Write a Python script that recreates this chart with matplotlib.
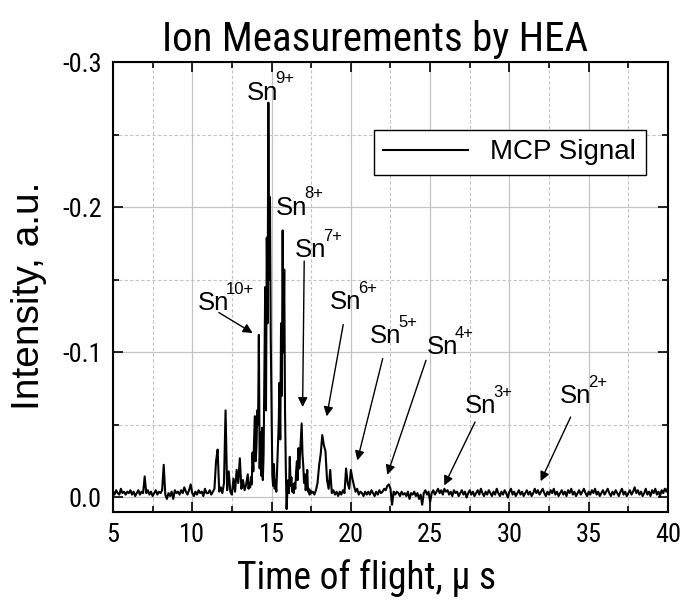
import numpy as np
import matplotlib
matplotlib.use("Agg")
import matplotlib.pyplot as plt
from matplotlib.ticker import MultipleLocator

NARROW = ['Roboto Condensed', 'Archivo Narrow', 'Liberation Sans', 'DejaVu Sans']
WIDE = ['Liberation Sans', 'DejaVu Sans']
plt.rcParams['font.family'] = NARROW

# MCP signal, split in stretches (time in microseconds)
early_start, early_stop = 5.0, 10.9
early_vals = [
    -0.004, -0.002, -0.005, -0.003, -0.002, -0.006, -0.003, -0.004, -0.002, -0.004,
    -0.003, -0.005, -0.002, -0.004, -0.001, -0.003, -0.005, -0.002, -0.004, -0.003,
    -0.0145, -0.003, -0.005, -0.002, -0.004, -0.001, -0.003, -0.005, -0.002, -0.004,
    -0.003, -0.005, -0.0225, -0.002, 0.001, -0.003, -0.001, -0.004, 0.001, -0.005,
    -0.003, -0.004, -0.002, -0.005, -0.003, -0.007, -0.004, -0.002, -0.005, -0.009,
    -0.003, -0.001, -0.004, -0.002, -0.005, -0.003, -0.004, -0.001, -0.006, -0.003,
]

rise_start, rise_stop = 11.0, 13.4
rise_vals = [
    -0.003, -0.005, -0.002, -0.004, -0.006, -0.025, -0.033, -0.004, -0.007, -0.003,
    -0.010, -0.060, -0.005, -0.018, -0.004, -0.002, -0.013, -0.004, -0.019, -0.010,
    -0.027, -0.006, -0.012, -0.005, -0.009,
]

# 0.05 us steps through the main group of peaks
main_start, main_stop = 13.5, 17.5
main_vals = [
    -0.016, -0.006, -0.010, -0.007, -0.014, -0.009, -0.031, -0.018, -0.040, -0.056,
    -0.025, -0.035, -0.060, -0.050, -0.112, -0.020, -0.045, -0.015, -0.048, -0.012,
    -0.030, -0.090, -0.145, -0.060, -0.179, -0.120, -0.272, -0.150, -0.207, -0.110,
    -0.060, -0.015, -0.008, -0.023, -0.006, -0.012, -0.004, -0.020, -0.035, -0.050,
    -0.079, -0.040, -0.120, -0.070, -0.184, -0.100, -0.157, -0.060, -0.020, 0.008,
    -0.005, -0.012, -0.003, -0.028, -0.008, -0.014, -0.004, -0.009, -0.003, -0.010,
    -0.006, -0.018, -0.025, -0.012, -0.034, -0.020, -0.030, -0.040, -0.051, -0.030,
    -0.022, -0.010, -0.016, -0.005, -0.008, -0.019, -0.004, -0.006, -0.002, -0.005,
    -0.003,
]

tail_start, tail_stop = 17.6, 21.0
tail_vals = [
    -0.004, -0.002, -0.005, -0.010, -0.022, -0.030, -0.043, -0.036, -0.032, -0.012,
    -0.006, -0.019, -0.003, -0.005, -0.002, -0.004, -0.001, -0.004, -0.002, -0.005,
    -0.003, -0.020, -0.010, -0.006, -0.019, -0.013, -0.008, -0.004, -0.006, -0.002,
    -0.004, -0.003, -0.001, -0.004, -0.002,
]

late_start, late_stop = 21.1, 40.0
late_vals = [
    -0.004, -0.002, -0.005, -0.003, -0.001, -0.004, -0.002, -0.005, -0.003, -0.004,
    -0.006, -0.005, -0.008, -0.009, -0.006, 0.005, -0.004, -0.002, -0.004, -0.003,
    -0.001, -0.004, -0.002, -0.003, -0.001, -0.004, 0.001, -0.003, -0.002, -0.004,
    -0.001, -0.003, 0.001, -0.002, 0.005, -0.003, -0.005, -0.002, -0.004, 0.003,
    -0.003, -0.005, -0.002, -0.004, -0.006, -0.003, -0.005, -0.002, -0.006, -0.004,
    -0.005, -0.002, -0.004, -0.001, -0.005, -0.003, -0.004, -0.001, -0.003, -0.005,
    -0.002, -0.004, 0.000, -0.003, -0.005, -0.002, -0.004, -0.001, -0.003, -0.005,
    -0.002, -0.006, -0.003, -0.001, -0.004, -0.002, -0.005, -0.003, -0.001, -0.004,
    -0.002, -0.006, -0.003, -0.001, -0.004, -0.002, -0.005, -0.003, 0.000, -0.004,
    -0.006, -0.002, -0.004, -0.001, -0.003, -0.005, -0.002, -0.004, -0.001, -0.003,
    -0.005, -0.002, -0.004, -0.001, -0.003, -0.006, -0.003, -0.005, -0.002, -0.004,
    -0.006, -0.003, -0.001, -0.004, -0.002, -0.005, -0.003, -0.006, -0.002, -0.004,
    -0.001, -0.003, -0.005, -0.002, -0.004, -0.001, -0.005, -0.003, -0.006, -0.002,
    -0.004, -0.001, -0.003, -0.005, -0.002, -0.004, -0.006, -0.003, -0.001, -0.004,
    -0.002, -0.005, -0.003, -0.006, -0.002, -0.004, -0.001, -0.003, -0.005, -0.002,
    -0.004, -0.006, -0.003, -0.001, -0.004, -0.002, -0.005, -0.003, -0.001, -0.004,
    -0.006, -0.002, -0.004, -0.001, -0.003, -0.005, -0.002, -0.004, -0.007, -0.003,
    -0.005, -0.002, -0.004, -0.001, -0.003, -0.006, -0.002, -0.004, -0.001, -0.005,
    -0.003, -0.006, -0.002, -0.004, -0.001, -0.005, -0.003, -0.006, -0.004, -0.007,
]

# ion labels: text anchor (left, baseline) and arrow (from, to); None = no arrow
ion_names = ["9+", "8+", "7+", "10+", "6+", "5+", "4+", "3+", "2+"]
label_xy = [(13.45, -0.274), (15.28, -0.1945), (16.48, -0.1655), (10.36, -0.129),
            (18.68, -0.1297), (21.21, -0.1062), (24.80, -0.0986), (27.20, -0.0579),
            (33.19, -0.0648)]
arrow_from = [None, None, (17.06, -0.1628), (11.68, -0.1274), (19.52, -0.1191),
              (22.01, -0.0957), (24.74, -0.0945), (27.83, -0.0519), (33.86, -0.0554)]
arrow_to = [None, None, (16.96, -0.0623), (13.81, -0.1133), (18.48, -0.0559),
            (20.41, -0.0255), (22.30, -0.0157), (25.89, -0.0083), (31.97, -0.0112)]

segments = [
    (early_start, early_stop, early_vals),
    (rise_start, rise_stop, rise_vals),
    (main_start, main_stop, main_vals),
    (tail_start, tail_stop, tail_vals),
    (late_start, late_stop, late_vals),
]
t = np.concatenate([np.linspace(a, b, len(v)) for a, b, v in segments])
signal = np.concatenate([v for a, b, v in segments])

fig = plt.figure(figsize=(6.83, 6.02), dpi=100)
ax = fig.add_axes([0.1654, 0.1495, 0.8126, 0.7475])

ax.plot(t, signal, color='black', lw=1.5, label='MCP Signal')

ax.set_xlim(5, 40)
ax.set_ylim(0.01, -0.3)
ax.xaxis.set_major_locator(MultipleLocator(5))
ax.xaxis.set_minor_locator(MultipleLocator(2.5))
ax.yaxis.set_major_locator(MultipleLocator(0.1))
ax.yaxis.set_minor_locator(MultipleLocator(0.05))
ax.yaxis.set_major_formatter(lambda v, p: f"{v:.1f}" if abs(v) > 1e-9 else "0.0")

ax.grid(True, which='major', color='#c4c4c4', lw=0.9, ls='-')
ax.grid(True, which='minor', color='#c4c4c4', lw=0.8, ls=(0, (3, 2)))
ax.set_axisbelow(True)

ax.tick_params(which='both', direction='in', top=True, right=True, width=1.2,
               labelsize=19, pad=8)
ax.tick_params(which='major', length=7)
ax.tick_params(which='minor', length=4)
for s in ax.spines.values():
    s.set_linewidth(1.5)

ax.set_title("Ion Measurements by HEA", fontsize=29.5, pad=8, x=0.473)
ax.set_xlabel("Time of flight, \u03bc s", fontsize=27)
ax.xaxis.set_label_coords(0.456, -0.105)
ax.set_ylabel("Intensity, a.u.", fontsize=28, family=WIDE)
ax.yaxis.set_label_coords(-0.119, 0.48)

sn_texts = []
for name, xy, a, b in zip(ion_names, label_xy, arrow_from, arrow_to):
    sn_texts.append(ax.text(xy[0], xy[1], "Sn", fontsize=18.5, family=WIDE,
                            ha='left', va='baseline'))
    if a is not None:
        ax.annotate("", xy=b, xytext=a,
                    arrowprops=dict(arrowstyle='-|>', color='black', lw=1.0,
                                    shrinkA=0, shrinkB=0, mutation_scale=14))

# superscript charges placed right after each "Sn"
fig.canvas.draw()
inv = ax.transData.inverted()
for txt, name in zip(sn_texts, ion_names):
    bb = txt.get_window_extent()
    x_right = inv.transform((bb.x1, bb.y0))[0]
    ax.annotate(name, xy=(x_right, txt.get_position()[1]), xytext=(-2.5, 12),
                textcoords='offset points', fontsize=12, family=WIDE,
                ha='left', va='baseline')

leg = ax.legend(loc='lower right', bbox_to_anchor=(0.960, 0.749), borderaxespad=0,
                fancybox=False, edgecolor='black', framealpha=1,
                prop={'family': WIDE, 'size': 20},
                handlelength=3.05, handletextpad=0.8, borderpad=0.35)
leg.get_frame().set_linewidth(1.0)

fig.savefig("out.png", dpi=100)
